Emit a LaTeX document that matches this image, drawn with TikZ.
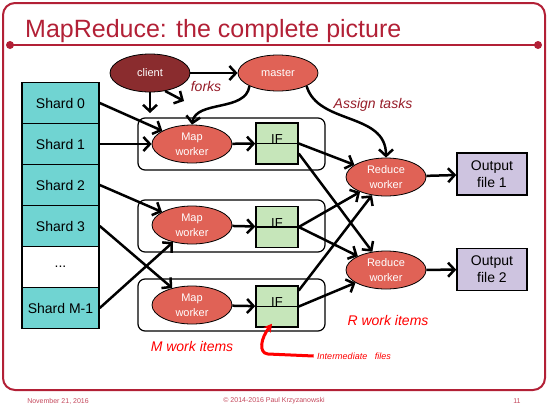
\documentclass[tikz,border=0pt]{standalone}
\usepackage{fontspec}
\setmainfont{Liberation Sans}
\usetikzlibrary{shapes.geometric,arrows.meta}

\definecolor{slidered}{RGB}{178,32,54}
\definecolor{footred}{RGB}{196,72,92}
\definecolor{shardcyan}{RGB}{112,212,210}
\definecolor{clientred}{RGB}{138,44,46}
\definecolor{workerred}{RGB}{224,98,86}
\definecolor{ifgreen}{RGB}{198,230,186}
\definecolor{outlilac}{RGB}{206,196,224}
\definecolor{notered}{RGB}{150,28,40}

\begin{document}
\begin{tikzpicture}[x=1pt,y=-1pt,
  shard/.style={draw,line width=1.5pt,fill=shardcyan,minimum width=77pt,minimum height=41pt,inner sep=0pt,font=\fontsize{14}{16}\selectfont},
  proc/.style={ellipse,draw,line width=0.8pt,text=white,minimum width=80pt,minimum height=38pt,inner sep=0pt,align=center,font=\fontsize{11}{15}\selectfont},
  worker/.style={proc,fill=workerred},
  group/.style={draw,line width=1.2pt,rounded corners=7pt,minimum width=187pt,minimum height=52pt},
  ifbox/.style={draw,line width=1.5pt,fill=ifgreen,minimum width=42pt,minimum height=41pt,inner sep=0pt},
  iftext/.style={inner sep=0pt,font=\fontsize{13}{15}\selectfont},
  outbox/.style={draw,line width=1.5pt,fill=outlilac,minimum width=70pt,minimum height=42pt,inner sep=0pt,align=center,font=\fontsize{14}{17}\selectfont},
  arr/.style={line width=2.5pt,-{Straight Barb[length=6.5pt,width=14pt]}},
  note/.style={font=\fontsize{14}{16}\selectfont\itshape}]
\useasboundingbox (0,0) rectangle (548,405);

% slide frame
\draw[slidered,line width=2pt,rounded corners=12pt] (3,3) rectangle (545,390);
\draw[slidered,line width=2.5pt] (10,45) -- (538,45);
\fill[slidered] (10,45) circle (4) (538,45) circle (4);
\node[slidered,anchor=base west,inner sep=0pt,font=\fontsize{25}{28}\selectfont] (title) at (25,37) {MapReduce: the complete picture};

\node[footred,font=\fontsize{7}{8}\selectfont] (date) at (58,401) {November 21, 2016};
\node[footred,font=\fontsize{7}{8}\selectfont] (copy) at (274,401) {\textcopyright{} 2014-2016 Paul Krzyzanowski};
\node[footred,font=\fontsize{7}{8}\selectfont] (page) at (517,401) {11};

% input shards
\node[shard] (s0) at (60.5,103) {Shard 0};
\node[shard] (s1) at (60.5,144) {Shard 1};
\node[shard] (s2) at (60.5,185) {Shard 2};
\node[shard] (s3) at (60.5,226) {Shard 3};
\node[shard,fill=white] (s4) at (60.5,267) {...};
\node[shard] (s5) at (60.5,308) {Shard M-1};

% map side
\node[group] (g1) at (231.5,144) {};
\node[group] (g2) at (231.5,226) {};
\node[group] (g3) at (231.5,305) {};

\node[proc,fill=clientred] (client) at (150,73) {client};
\node[worker,minimum height=36pt] (master) at (278,73) {master};

\node[worker] (map1) at (192,144) {Map\\worker};
\node[worker] (map2) at (192,225) {Map\\worker};
\node[worker] (map3) at (192,305) {Map\\worker};

\node[ifbox] (if1) at (277,143.5) {};
\node[ifbox] (if2) at (277,227) {};
\node[ifbox] (if3) at (277,306.5) {};
\draw[line width=1.5pt] (if1.west) -- (if1.east);
\draw[line width=1.5pt] (if2.west) -- (if2.east);
\draw[line width=1.5pt] (if3.west) -- (if3.east);
\node[iftext,anchor=base] (if1t) at (if1.center) {IF};
\node[iftext,anchor=base] (if2t) at (if2.center) {IF};
\node[iftext,anchor=base] (if3t) at (if3.center) {IF};

% reduce side
\node[worker] (red1) at (386,177) {Reduce\\worker};
\node[worker] (red2) at (386,270) {Reduce\\worker};
\node[outbox] (out1) at (492,174) {Output\\file 1};
\node[outbox] (out2) at (492,269.5) {Output\\file 2};

% client and master
\coordinate (drop) at (150,113);
\coordinate (forktip) at (184,101);
\draw[arr] (client) -- (master);
\draw[arr] (client.south) -- (drop);
\draw[arr] (client.-50) -- (forktip);
\draw[arr] (master.south west) .. controls (246,112) and (196,100) .. (map1.north);
\draw[arr] (master.south east) .. controls (318,125) and (386,112) .. (red1.north);
\node[note,notered] (forks) at (206,86) {forks};
\node[note,notered] (assign) at (373,105) {Assign tasks};

% shards to map workers
\draw[arr] (s0.east) -- (map1);
\draw[arr] (s1.east) -- (map1);
\draw[arr] (s2.east) -- (map2);
\draw[arr] (s3.east) -- (map3);
\draw[arr] (s5.east) -- (map2);

\draw[arr] (map1) -- (if1);
\draw[arr] (map2) -- (if2);
\draw[arr] (map3) -- (if3);

% intermediate files to reducers
\draw[arr] (if1.east) -- (red1);
\draw[arr] ([yshift=-10pt]if1.east) -- (red2);
\draw[arr] (if2.east) -- (red1);
\draw[arr] (if2.east) -- (red2);
\draw[arr] ([yshift=16pt]if3.east) -- (red1);
\draw[arr] (if3.east) -- (red2);

\draw[arr] (red1) -- (out1);
\draw[arr] (red2) -- (out2);

% labels
\node[note,red] (mitems) at (192,346) {M work items};
\node[note,red] (ritems) at (388,320) {R work items};
\node[red,font=\fontsize{9}{10}\selectfont\itshape] (imfiles) at (354,356) {Intermediate \ \ files};
\draw[red,line width=3pt,-{Stealth[length=8pt,width=9pt]}] (imfiles.west) -- (268,354)
  .. controls (258,353) and (261,338) .. ([xshift=-5pt,yshift=4pt]if3.south);

\end{tikzpicture}
\end{document}
